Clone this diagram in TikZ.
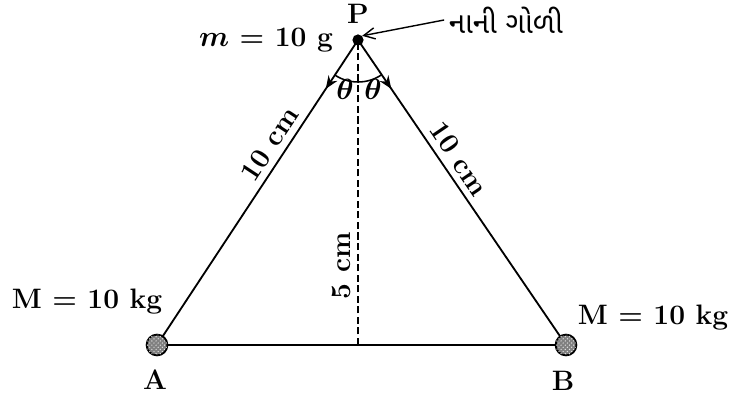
\documentclass[tikz,border=0pt]{standalone}
\usepackage{amsmath}
\usepackage{fontspec}
\newfontfamily\gujfont[Script=Gujarati]{Noto Sans Gujarati UI}
\usetikzlibrary{calc, positioning}
\usetikzlibrary{arrows.meta}
\usetikzlibrary{decorations.markings}
\usetikzlibrary{patterns}

\tikzset{
  lbl/.style={font=\fontsize{20}{24}\selectfont\bfseries},
  mass/.style={circle, draw, line width=1.3pt, minimum size=5.2mm, inner sep=0pt,
    fill=gray, postaction={pattern=crosshatch dots, pattern color=gray!20}},
  side/.style={line width=1.3pt, postaction={decorate}, decoration={markings,
    mark=at position 0.16 with {\arrow{Stealth[length=3.2mm, width=2.6mm]}}}},
}

\begin{document}
\begin{tikzpicture}[x=0.025cm, y=0.025cm]
\useasboundingbox (0, 0) rectangle (730, 400);
\coordinate (P) at (358, 360);
\coordinate (A) at (157, 55);
\coordinate (B) at (566, 55);
\coordinate (F) at (358, 55);

% strings and base
\draw[side] (P) -- (A) node[pos=0.37, sloped, above=1pt, lbl] {10 cm};
\draw[side] (P) -- (B) node[pos=0.42, sloped, above=1pt, lbl] {10 cm};
\draw[line width=1.3pt] (A) -- (B);
\draw[line width=1.4pt, dashed, dash pattern=on 5pt off 2.5pt] (F) -- (P)
  node[pos=0.26, sloped, above=1pt, lbl] {5 cm};

% angle at P
\draw[line width=1.1pt] ($(P)+(236.6:1.05cm)$) arc[start angle=236.6, end angle=304.3, radius=1.05cm];
\node[lbl] (t1) at (345, 311) {$\boldsymbol{\theta}$};
\node[lbl] (t2) at (373, 311) {$\boldsymbol{\theta}$};

% masses
\node[mass] (mA) at (A) {};
\node[mass] (mB) at (B) {};
\node[circle, fill, inner sep=0pt, minimum size=2.8mm] (dot) at (P) {};

\node[lbl] (lP) at (358, 386) {P};
\node[lbl] (lA) at (155, 20) {A};
\node[lbl] (lB) at (563, 19) {B};
\node[lbl] (lm) at (266, 360) {$\boldsymbol{m}$ = 10 g};
\node[lbl] (MA) at (87, 98) {M = 10 kg};
\node[lbl] (MB) at (653, 82) {M = 10 kg};

\node[font=\fontsize{21}{25}\selectfont\gujfont] (g) at (506, 380) {નાની ગોળી};
\draw[line width=1pt, -{Straight Barb[length=2.8mm, width=2.8mm]}] (g.west) -- (dot.north east);

\end{tikzpicture}
\end{document}
